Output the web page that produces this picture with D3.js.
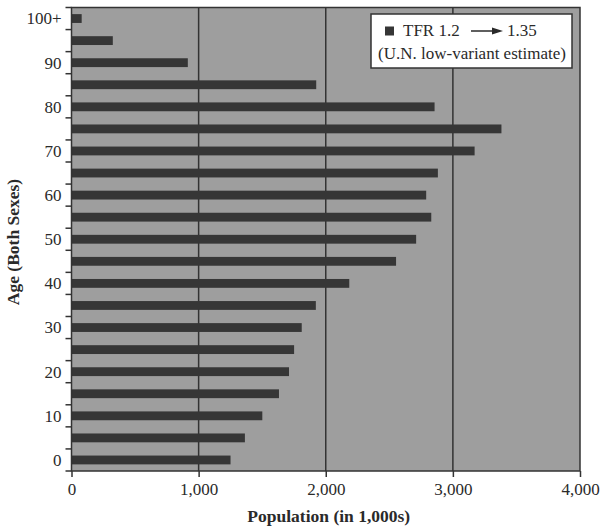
<!DOCTYPE html>
<html>
<head>
<meta charset="utf-8">
<script src="https://cdn.jsdelivr.net/npm/d3@7"></script>
<style>
  html, body { margin: 0; padding: 0; background: #fff; }
  svg { display: block; }
</style>
</head>
<body>
<svg id="chart" width="603" height="531"></svg>
<script>
// ---- data ----
const ageGroups = ["0","5","10","15","20","25","30","35","40","45","50","55","60","65","70","75","80","85","90","95","100+"];
const population = [1251,1364,1501,1632,1711,1751,1811,1922,2185,2553,2711,2830,2790,2882,3171,3382,2856,1925,915,325,80];
const ageTickLabels = ["0","10","20","30","40","50","60","70","80","90","100+"];
const xTicks = [0,1000,2000,3000,4000];
const legendLine1a = "TFR 1.2";
const legendLine1b = "1.35";
const legendLine2 = "(U.N. low-variant estimate)";
const xTitle = "Population (in 1,000s)";
const yTitle = "Age (Both Sexes)";

const data = ageGroups.map((a, i) => ({ age: a, value: population[i] }));

const FONT = "Liberation Serif, DejaVu Serif, serif";
const TXT = "#2a2a2a";

// ---- layout ----
const svg = d3.select("#chart");
const m = { left: 71.5, right: 580, top: 7.5, bottom: 471 };

const x = d3.scaleLinear().domain([0, 4000]).range([m.left, m.right]);
const y = d3.scaleBand().domain(ageGroups.slice().reverse()).range([m.top, m.bottom])
  .paddingInner(0.6).paddingOuter(0.3);

// plot background
svg.append("rect")
  .attr("x", m.left).attr("y", m.top)
  .attr("width", m.right - m.left).attr("height", m.bottom - m.top)
  .attr("fill", "#9e9e9e");

// gridlines
svg.append("g").selectAll("line")
  .data(xTicks.slice(1, -1))
  .join("line")
  .attr("x1", d => x(d)).attr("x2", d => x(d))
  .attr("y1", m.top).attr("y2", m.bottom)
  .attr("stroke", "#333").attr("stroke-width", 1.5);

// bars
svg.append("g").selectAll("rect")
  .data(data)
  .join("rect")
  .attr("x", x(0))
  .attr("y", d => y(d.age))
  .attr("width", d => x(d.value) - x(0))
  .attr("height", y.bandwidth())
  .attr("fill", "#363636");

// plot border
svg.append("rect")
  .attr("x", m.left).attr("y", m.top)
  .attr("width", m.right - m.left).attr("height", m.bottom - m.top)
  .attr("fill", "none").attr("stroke", "#333").attr("stroke-width", 1.5);

// x axis
const xAxis = d3.axisBottom(x).tickValues(xTicks).tickSize(6).tickPadding(6)
  .tickFormat(d3.format(","));
const gx = svg.append("g").attr("transform", `translate(0,${m.bottom})`).call(xAxis)
  .attr("font-family", FONT).attr("font-size", 17);
gx.select(".domain").remove();
gx.selectAll(".tick line").attr("stroke", "#333").attr("stroke-width", 1.5);
gx.selectAll(".tick text").attr("fill", TXT);

// y axis: ticks at band boundaries, labels at every other band center
const boundaries = d3.range(ageGroups.length + 1).map(i => m.top + i * (m.bottom - m.top) / ageGroups.length);
svg.append("g").selectAll("line")
  .data(boundaries)
  .join("line")
  .attr("x1", m.left - 6).attr("x2", m.left)
  .attr("y1", d => d).attr("y2", d => d)
  .attr("stroke", "#333").attr("stroke-width", 1.5);

svg.append("g").selectAll("text")
  .data(ageTickLabels)
  .join("text")
  .attr("x", m.left - 10)
  .attr("y", d => y(d) + y.bandwidth() / 2)
  .attr("dy", "0.35em")
  .attr("text-anchor", "end")
  .attr("font-family", FONT).attr("font-size", 17).attr("fill", TXT)
  .text(d => d);

// axis titles
svg.append("text")
  .attr("x", (m.left + m.right) / 2 + 3).attr("y", 522)
  .attr("text-anchor", "middle")
  .attr("font-family", FONT).attr("font-size", 17.5).attr("font-weight", "bold").attr("fill", TXT)
  .text(xTitle);

svg.append("text")
  .attr("transform", `translate(19,242) rotate(-90)`)
  .attr("text-anchor", "middle")
  .attr("font-family", FONT).attr("font-size", 17.5).attr("font-weight", "bold").attr("fill", TXT)
  .text(yTitle);

// legend
const lg = svg.append("g");
lg.append("rect")
  .attr("x", 371).attr("y", 14).attr("width", 201).attr("height", 54)
  .attr("fill", "#fff").attr("stroke", "#333").attr("stroke-width", 1.5);
lg.append("rect")
  .attr("x", 385).attr("y", 26.5).attr("width", 9).attr("height", 9)
  .attr("fill", "#363636");
lg.append("text").attr("x", 403).attr("y", 36)
  .attr("font-family", FONT).attr("font-size", 17).attr("fill", TXT).text(legendLine1a);
lg.append("line")
  .attr("x1", 471).attr("x2", 494).attr("y1", 31).attr("y2", 31)
  .attr("stroke", TXT).attr("stroke-width", 1.5);
lg.append("path")
  .attr("d", "M492,27.5 L503,31 L492,34.5 Z")
  .attr("fill", TXT);
lg.append("text").attr("x", 507).attr("y", 36)
  .attr("font-family", FONT).attr("font-size", 17).attr("fill", TXT).text(legendLine1b);
lg.append("text").attr("x", 472).attr("y", 59).attr("text-anchor", "middle")
  .attr("font-family", FONT).attr("font-size", 17).attr("fill", TXT).text(legendLine2);
</script>
</body>
</html>
